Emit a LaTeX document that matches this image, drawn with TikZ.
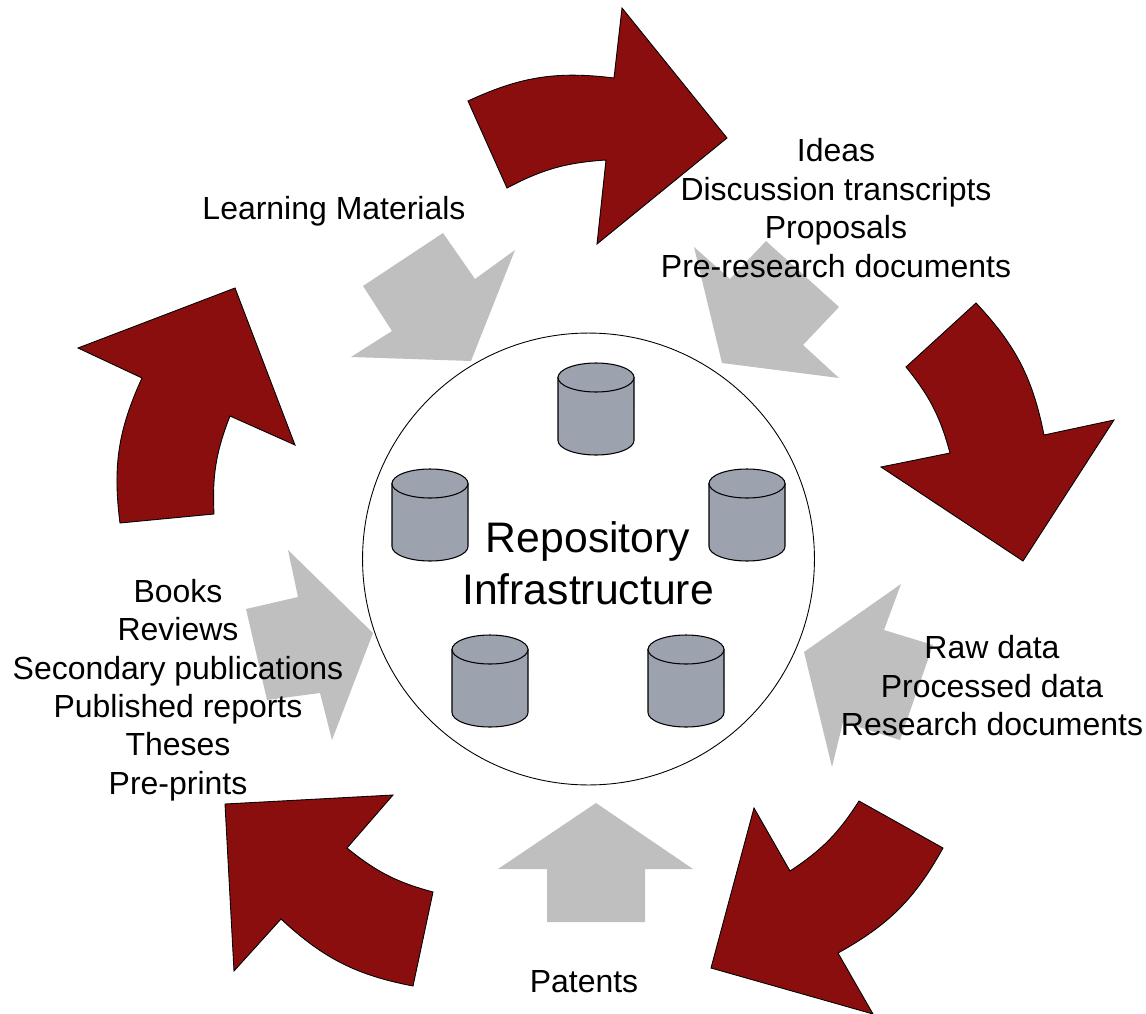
\documentclass[tikz,border=0pt]{standalone}
\usepackage{fontspec}
\usepackage{xcolor}
\usepackage{tikz}
\setmainfont{Liberation Sans}
\definecolor{cycleRed}{HTML}{8B0E0E}
\definecolor{flowGray}{HTML}{BFBFBF}
\definecolor{storeGray}{HTML}{9CA3AE}
\tikzset{
    redarrow/.style={draw=black, line width=0.5pt, fill=cycleRed, line join=miter},
    grayarrow/.style={fill=flowGray},
    caption/.style={align=center, inner sep=0pt, font=\fontsize{18.2}{21.9}\selectfont},
    datastore/.pic={
        \draw[line width=0.6pt, fill=storeGray] (-38,-31.5) -- (-38,31.5) arc[start angle=180, end angle=360, x radius=0.76cm, y radius=0.29cm] -- (38,-31.5) -- cycle;
        \draw[line width=0.6pt, fill=storeGray] (0,-31.5) ellipse[x radius=0.76cm, y radius=0.29cm];
    }
}
\begin{document}
\begin{tikzpicture}[x=0.02cm, y=-0.02cm]
    \useasboundingbox (0,0) rectangle (1146,1014);

    % gray arrows
    \fill[grayarrow] (443,233) -- (475,279) -- (515,250) -- (471,361) -- (351,357) -- (392,331) -- (363,286) -- cycle;
    \fill[grayarrow] (694,247) -- (730,279) -- (766,241) -- (839,307) -- (803,345) -- (839,378) -- (722,363) -- cycle;
    \fill[grayarrow] (901,584) -- (884,630) -- (933,645) -- (900,740) -- (843,722) -- (832,767) -- (804,652) -- cycle;
    \fill[grayarrow] (596,803) -- (693,869) -- (645,869) -- (645,922) -- (547,922) -- (547,869) -- (498,869) -- cycle;
    \fill[grayarrow] (288,550) -- (298,597) -- (246,609) -- (267,700) -- (320,693) -- (332,740) -- (373,633) -- cycle;

    % red arrows
    \draw[redarrow] (468,101) to[bend left=16] (614,78) -- (622,8) -- (727,138) -- (597,244) -- (606,160) to[bend right=12] (507,188) -- cycle;
    \draw[redarrow] (976,303) to[bend left=16] (1044,435) -- (1114,420) -- (1023,561) -- (881,467) -- (950,453) to[bend right=12] (906,367) -- cycle;
    \draw[redarrow] (943,848) to[bend left=16] (838,953) -- (873,1014) -- (711,968) -- (754,808) -- (790,871) to[bend right=12] (859,801) -- cycle;
    \draw[redarrow] (413,986) to[bend left=16] (281,919) -- (234,971) -- (225,804) -- (393,795) -- (347,848) to[bend right=12] (433,892) -- cycle;
    \draw[redarrow] (120,523) to[bend left=16] (142,378) -- (78,348) -- (235,288) -- (295,445) -- (230,416) to[bend right=12] (214,514) -- cycle;

    % repository
    \node[draw, circle, line width=0.5pt, minimum size=9.04cm, inner sep=0pt] (hub) at (588.5,559) {};
    \pic (storeN) at (596,409) {datastore};
    \pic (storeW) at (430,515) {datastore};
    \pic (storeE) at (747,515) {datastore};
    \pic (storeSW) at (490,681) {datastore};
    \pic (storeSE) at (686,681) {datastore};
    \node[align=center, inner sep=0pt, font=\fontsize{24.3}{29.6}\selectfont] (hubtext) at (588,563) {Repository\\Infrastructure};

    % outputs
    \node[caption] (learning) at (334,211) {Learning Materials};
    \node[caption] (ideas) at (836,208) {Ideas\\Discussion transcripts\\Proposals\\Pre-research documents};
    \node[caption] (rawdata) at (992,686) {Raw data\\Processed data\\Research documents};
    \node[caption] (patents) at (584,982) {Patents};
    \node[caption] (books) at (178,690) {Books\\Reviews\\Secondary publications\\Published reports\\Theses\\Pre-prints};
\end{tikzpicture}
\end{document}
